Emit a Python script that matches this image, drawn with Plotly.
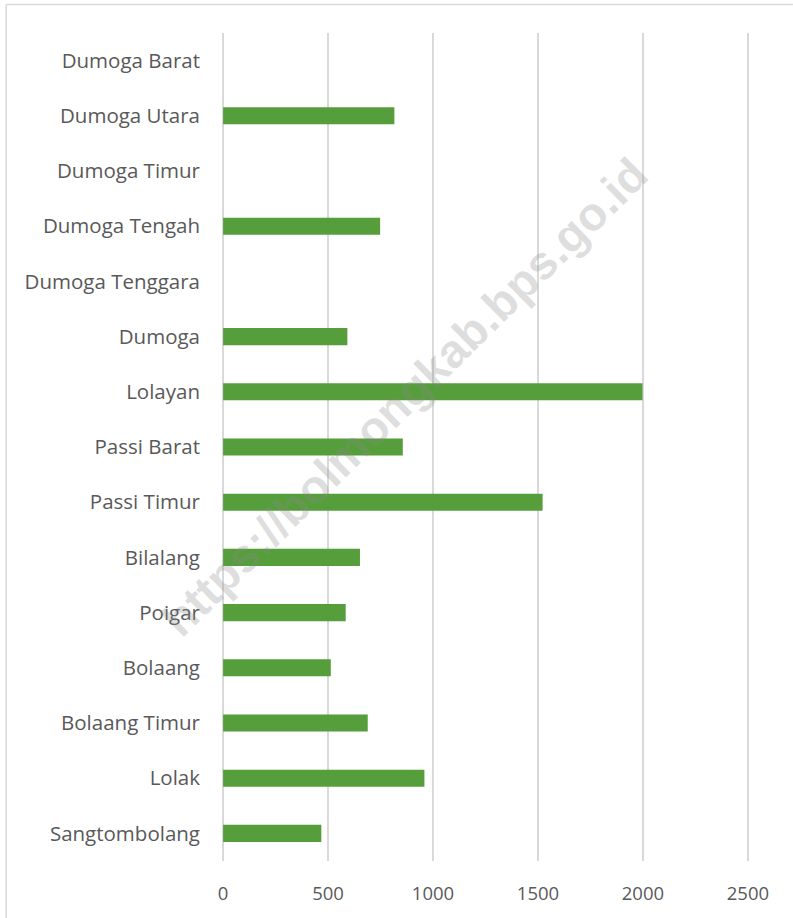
import plotly.graph_objects as go

categories = ["Sangtombolang", "Lolak", "Bolaang Timur", "Bolaang", "Poigar", "Bilalang",
              "Passi Timur", "Passi Barat", "Lolayan", "Dumoga", "Dumoga Tenggara",
              "Dumoga Tengah", "Dumoga Timur", "Dumoga Utara", "Dumoga Barat"]
values = [468, 959, 689, 513, 584, 652, 1522, 856, 1998, 592, None, 748, None, 816, None]
x_ticks = [0, 500, 1000, 1500, 2000, 2500]

W, H = 793, 918
L, R, T, B = 220.9, 750.1, 33, 861

def px(x):
    return (x - L) / (R - L)

def py(y):
    return (B - y) / (B - T)

fig = go.Figure(go.Bar(
    y=categories, x=values, orientation="h",
    marker=dict(color="#559E3B", line=dict(width=0)),
    hoverinfo="x+y",
))

fig.update_layout(
    width=W, height=H,
    margin=dict(l=L, r=W - R, t=T, b=H - B),
    paper_bgcolor="white", plot_bgcolor="white",
    bargap=0.69,
    showlegend=False,
    font=dict(family="Open Sans", color="#595959"),
    xaxis=dict(range=[-10, 2510], tickvals=x_ticks, ticktext=[str(v) for v in x_ticks],
               showgrid=True, gridcolor="#D9D9D9", gridwidth=1.5, zeroline=False,
               showline=False, tickfont=dict(size=18.5, color="#595959"),
               ticks="", ticklabelstandoff=19),
    yaxis=dict(categoryorder="array", categoryarray=categories, showgrid=False,
               zeroline=False, showline=False, tickfont=dict(size=20.5, color="#595959"),
               ticks="", ticklabelstandoff=20),
    shapes=[
        dict(type="line", xref="paper", yref="paper",
             x0=px(6), x1=px(793), y0=py(4.5), y1=py(4.5),
             line=dict(color="#D9D9D9", width=1.5), layer="below"),
        dict(type="line", xref="paper", yref="paper",
             x0=px(6), x1=px(6), y0=py(4.5), y1=py(918),
             line=dict(color="#D9D9D9", width=1.5), layer="below"),
    ],
    annotations=[dict(text="<b>https://bolmongkab.bps.go.id</b>", xref="paper", yref="paper",
                      x=px(405), y=py(397), showarrow=False, textangle=-44.5,
                      font=dict(family="Liberation Sans", size=47, color="rgba(140,140,140,0.28)"),
                      xanchor="center", yanchor="middle")],
)

fig.write_html("out.html", config={"displayModeBar": False},
               post_script="document.body.style.margin='0';document.body.style.overflow='hidden';")
